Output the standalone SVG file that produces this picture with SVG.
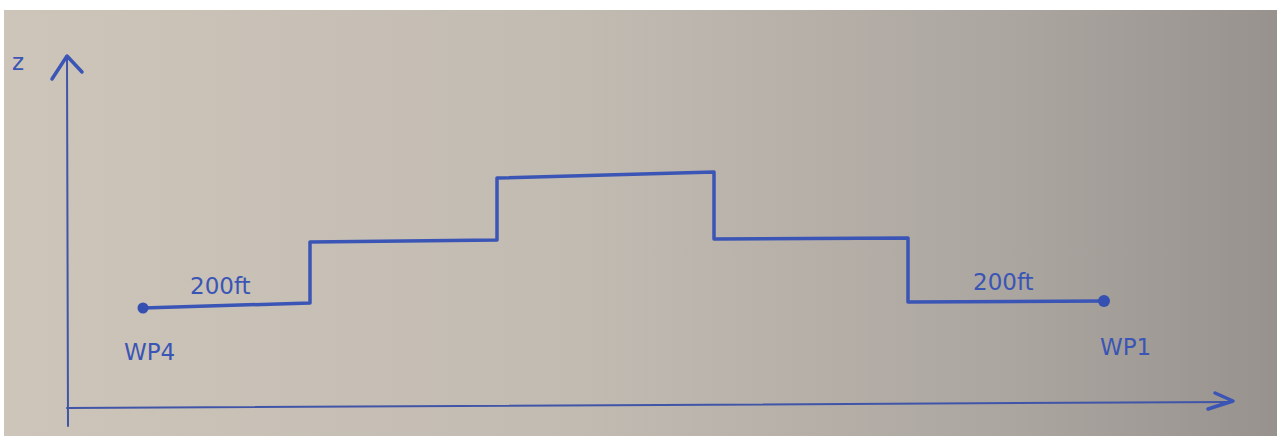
<svg xmlns="http://www.w3.org/2000/svg" width="1277" height="436" viewBox="0 0 1277 436">
<defs>
<linearGradient id="paper" x1="0" y1="0" x2="1" y2="0">
<stop offset="0" stop-color="#cdc5b9"/>
<stop offset="0.45" stop-color="#c2bbb2"/>
<stop offset="0.8" stop-color="#aaa59f"/>
<stop offset="1" stop-color="#97928d"/>
</linearGradient>
<style>
.pen{fill:none;stroke:#3a55b5;stroke-width:3.5;stroke-linecap:round;stroke-linejoin:round}
.axis{fill:none;stroke:#4055a8;stroke-width:2;stroke-linecap:round}
.lbl{font-family:"DejaVu Sans","Liberation Sans",sans-serif;font-size:23px;fill:#3a55b5}
.dot{fill:#3550b0}
</style>
</defs>
<rect width="1277" height="436" fill="#ffffff"/>
<rect x="4" y="10" width="1273" height="426" fill="url(#paper)"/>
<g id="axes">
<path class="axis" d="M67,56 L68,426"/>
<path class="pen" d="M52,79 L67,56 L82,72"/>
<path class="axis" d="M67,408 L1231,402"/>
<path class="pen" d="M1215,393 L1233,401 L1208,409"/>
<text class="lbl" x="12" y="70">z</text>
</g>
<g id="connectors">
<path class="pen" d="M143,308 L310,303 L310,242 L497,240 L497,178 L714,172 L714,239 L908,238 L908,302 L1104,301"/>
</g>
<g id="wp4">
<circle class="dot" cx="143" cy="308" r="5.5"/>
<text class="lbl" x="124" y="360">WP4</text>
</g>
<g id="wp1">
<circle class="dot" cx="1104" cy="301" r="6"/>
<text class="lbl" x="1100" y="355">WP1</text>
</g>
<g id="labels">
<text class="lbl" x="190" y="294">200ft</text>
<text class="lbl" x="973" y="290">200ft</text>
</g>
</svg>
